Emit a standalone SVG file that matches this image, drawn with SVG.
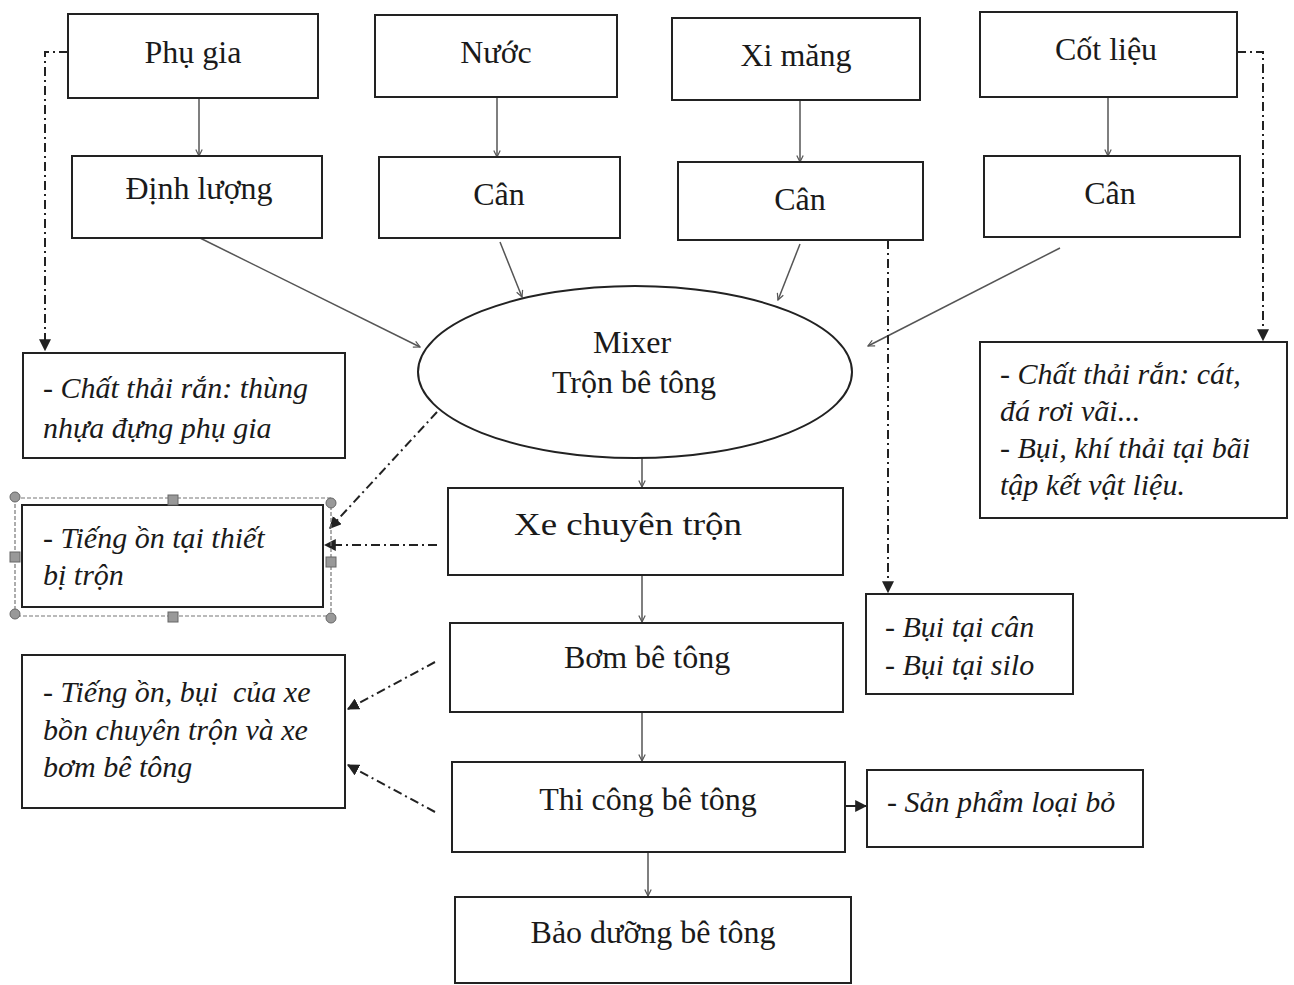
<svg xmlns="http://www.w3.org/2000/svg" width="1294" height="985" viewBox="0 0 1294 985">
<defs>
<style>
.box{fill:#fff;stroke:#222;stroke-width:2}
.lbl{font-family:"Liberation Serif","DejaVu Serif",serif;font-size:32px;fill:#1a1a1a;text-anchor:middle}
.it{font-family:"Liberation Serif","DejaVu Serif",serif;font-style:italic;font-size:30px;fill:#1a1a1a;white-space:pre}
.flow{fill:none;stroke:#555;stroke-width:1.5;marker-end:url(#thin)}
.dd{fill:none;stroke:#222;stroke-width:2;stroke-dasharray:9 4 2 4;marker-end:url(#solid)}
.sel{fill:none;stroke:#777;stroke-width:1.2;stroke-dasharray:4 2}
.hc{fill:#999;stroke:#666;stroke-width:1}
</style>
<marker id="thin" viewBox="0 0 10 10" refX="9" refY="5" markerWidth="8" markerHeight="8" markerUnits="userSpaceOnUse" orient="auto">
<path d="M1,1 L9,5 L1,9" fill="none" stroke="#555" stroke-width="1.5"/>
</marker>
<marker id="solid" viewBox="0 0 10 10" refX="9" refY="5" markerWidth="12" markerHeight="12" markerUnits="userSpaceOnUse" orient="auto">
<path d="M0,0 L10,5 L0,10 Z" fill="#222"/>
</marker>
</defs>
<rect width="1294" height="985" fill="#fff"/>

<g id="connectors">
<path class="flow" d="M199,99 L199,156"/>
<path class="flow" d="M497,97 L497,157"/>
<path class="flow" d="M800,100 L800,162"/>
<path class="flow" d="M1108,97 L1108,156"/>
<path class="flow" d="M200,238 L420,347"/>
<path class="flow" d="M500,242 L522,297"/>
<path class="flow" d="M800,244 L778,300"/>
<path class="flow" d="M1060,248 L868,346"/>
<path class="flow" d="M642,458 L642,487"/>
<path class="flow" d="M642,575 L642,622"/>
<path class="flow" d="M642,712 L642,761"/>
<path class="flow" d="M648,852 L648,896"/>
<path class="dd" d="M68,52 L45,52 L45,350"/>
<path class="dd" d="M1237,52 L1263,52 L1263,340"/>
<path class="dd" d="M888,240 L888,592"/>
<path class="dd" d="M437,412 L330,528"/>
<path class="dd" d="M437,545 L325,545"/>
<path class="dd" d="M435,662 L348,709"/>
<path class="dd" d="M435,812 L348,765"/>
<path d="M845,806 L866,806" fill="none" stroke="#222" stroke-width="2" marker-end="url(#solid)"/>
</g>

<g id="phu-gia"><rect class="box" x="68" y="14" width="250" height="84"/><text class="lbl" x="193" y="63">Phụ gia</text></g>
<g id="nuoc"><rect class="box" x="375" y="15" width="242" height="82"/><text class="lbl" x="496" y="63">Nước</text></g>
<g id="xi-mang"><rect class="box" x="672" y="18" width="248" height="82"/><text class="lbl" x="796" y="66">Xi măng</text></g>
<g id="cot-lieu"><rect class="box" x="980" y="12" width="257" height="85"/><text class="lbl" x="1106" y="60">Cốt liệu</text></g>

<g id="dinh-luong"><rect class="box" x="72" y="156" width="250" height="82"/><text class="lbl" x="199" y="199">Định lượng</text></g>
<g id="can-nuoc"><rect class="box" x="379" y="157" width="241" height="81"/><text class="lbl" x="499" y="205">Cân</text></g>
<g id="can-xi-mang"><rect class="box" x="678" y="162" width="245" height="78"/><text class="lbl" x="800" y="210">Cân</text></g>
<g id="can-cot-lieu"><rect class="box" x="984" y="156" width="256" height="81"/><text class="lbl" x="1110" y="204">Cân</text></g>

<g id="mixer"><ellipse cx="635" cy="372" rx="217" ry="86" fill="#fff" stroke="#222" stroke-width="2"/><text class="lbl" x="632" y="353">Mixer</text><text class="lbl" x="634" y="393">Trộn bê tông</text></g>

<g id="waste-phu-gia"><rect class="box" x="23" y="353" width="322" height="105"/><text class="it" x="43" y="398">- Chất thải rắn: thùng</text><text class="it" x="43" y="438">nhựa đựng phụ gia</text></g>

<g id="waste-cot-lieu"><rect class="box" x="980" y="342" width="307" height="176"/><text class="it" x="1000" y="384">- Chất thải rắn: cát,</text><text class="it" x="1000" y="421">đá rơi vãi...</text><text class="it" x="1000" y="458">- Bụi, khí thải tại bãi</text><text class="it" x="1000" y="495">tập kết vật liệu.</text></g>

<g id="waste-tron">
<rect class="sel" x="15" y="498" width="316" height="118"/>
<rect class="box" x="22" y="505" width="301" height="102"/>
<circle class="hc" cx="15" cy="497" r="5"/><rect class="hc" x="168" y="495" width="10" height="10"/><circle class="hc" cx="331" cy="503" r="5"/>
<rect class="hc" x="10" y="552" width="10" height="10"/><rect class="hc" x="326" y="557" width="10" height="10"/>
<circle class="hc" cx="15" cy="614" r="5"/><rect class="hc" x="168" y="612" width="10" height="10"/><circle class="hc" cx="331" cy="618" r="5"/>
<text class="it" x="43" y="548">- Tiếng ồn tại thiết</text><text class="it" x="43" y="585">bị trộn</text>
</g>

<g id="waste-xe"><rect class="box" x="22" y="655" width="323" height="153"/><text class="it" x="43" y="702">- Tiếng ồn, bụi  của xe</text><text class="it" x="43" y="740">bồn chuyên trộn và xe</text><text class="it" x="43" y="777">bơm bê tông</text></g>

<g id="xe-chuyen-tron"><rect class="box" x="448" y="488" width="395" height="87"/><text class="lbl" x="628" y="535" textLength="228" lengthAdjust="spacingAndGlyphs">Xe chuyên trộn</text></g>
<g id="bom-be-tong"><rect class="box" x="450" y="623" width="393" height="89"/><text class="lbl" x="647" y="668">Bơm bê tông</text></g>
<g id="thi-cong"><rect class="box" x="452" y="762" width="393" height="90"/><text class="lbl" x="648" y="810">Thi công bê tông</text></g>
<g id="bao-duong"><rect class="box" x="455" y="897" width="396" height="86"/><text class="lbl" x="653" y="943">Bảo dưỡng bê tông</text></g>

<g id="waste-can"><rect class="box" x="866" y="594" width="207" height="100"/><text class="it" x="885" y="637">- Bụi tại cân</text><text class="it" x="885" y="675">- Bụi tại silo</text></g>
<g id="waste-thi-cong"><rect class="box" x="867" y="770" width="276" height="77"/><text class="it" x="887" y="812">- Sản phẩm loại bỏ</text></g>
</svg>
